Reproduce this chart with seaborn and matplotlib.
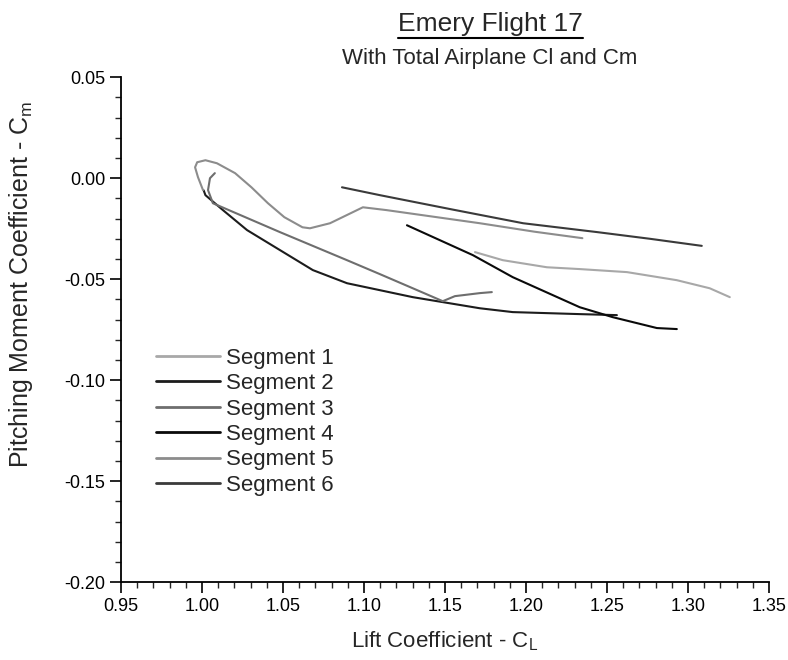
import numpy as np
import pandas as pd
import matplotlib
matplotlib.use("Agg")
import matplotlib.pyplot as plt
import seaborn as sns
from matplotlib.ticker import MultipleLocator, AutoMinorLocator, FormatStrFormatter
from matplotlib.lines import Line2D

# -------------------------------
# Data (CL, Cm per flight segment)
# -------------------------------
seg1_cl = [1.1685, 1.1857, 1.2129, 1.2332, 1.2623, 1.2931, 1.3134, 1.3258]
seg1_cm = [-0.0366, -0.0406, -0.0441, -0.0450, -0.0465, -0.0505, -0.0545, -0.0589]

seg2_cl = [1.0010, 1.0021, 1.0129, 1.0278, 1.0481, 1.0684, 1.0895, 1.1301,
           1.1715, 1.1918, 1.2332, 1.2561]
seg2_cm = [-0.0060, -0.0084, -0.0158, -0.0257, -0.0356, -0.0455, -0.0520, -0.0589,
           -0.0644, -0.0663, -0.0673, -0.0678]

seg3_cl = [1.0079, 1.0049, 1.0037, 1.0067, 1.0481, 1.0895, 1.1098, 1.1301,
           1.1486, 1.1561, 1.1715, 1.1789]
seg3_cm = [0.0025, 0.0000, -0.0059, -0.0124, -0.0267, -0.0406, -0.0475, -0.0545,
           -0.0609, -0.0584, -0.0569, -0.0564]

seg4_cl = [1.1265, 1.1672, 1.1918, 1.2332, 1.2535, 1.2808, 1.2931]
seg4_cm = [-0.0233, -0.0381, -0.0490, -0.0639, -0.0688, -0.0742, -0.0747]

seg5_cl = [1.0006, 0.9975, 0.9957, 0.9970, 1.0021, 1.0092, 1.0204, 1.0305,
           1.0407, 1.0508, 1.0620, 1.0666, 1.0790, 1.0993, 1.1139, 1.1715,
           1.2053, 1.2348]
seg5_cm = [-0.0059, 0.0005, 0.0054, 0.0079, 0.0089, 0.0074, 0.0025, -0.0045,
           -0.0124, -0.0193, -0.0243, -0.0248, -0.0223, -0.0144, -0.0158, -0.0223,
           -0.0265, -0.0297]

seg6_cl = [1.0864, 1.1098, 1.1545, 1.1982, 1.2440, 1.2765, 1.3085]
seg6_cm = [-0.0045, -0.0084, -0.0155, -0.0223, -0.0267, -0.0300, -0.0335]

segments = ["Segment 1", "Segment 2", "Segment 3", "Segment 4", "Segment 5", "Segment 6"]
seg_colors = ["#a8a8a8", "#1c1c1c", "#6e6e6e", "#0a0a0a", "#8c8c8c", "#3a3a3a"]

frames = []
for name, cl, cm in zip(segments,
                        [seg1_cl, seg2_cl, seg3_cl, seg4_cl, seg5_cl, seg6_cl],
                        [seg1_cm, seg2_cm, seg3_cm, seg4_cm, seg5_cm, seg6_cm]):
    frames.append(pd.DataFrame({"CL": cl, "Cm": cm, "segment": name}))
df = pd.concat(frames, ignore_index=True)

# -------------------------------
# Plot
# -------------------------------
sns.set_style("ticks")
plt.rcParams["font.family"] = ["Liberation Sans", "DejaVu Sans"]
plt.rcParams["axes.unicode_minus"] = False

fig = plt.figure(figsize=(7.88, 6.60), dpi=100)
ax = fig.add_axes([0.1536, 0.118, 0.8223, 0.765])

sns.lineplot(data=df, x="CL", y="Cm", hue="segment", hue_order=segments,
             palette=dict(zip(segments, seg_colors)), sort=False, estimator=None,
             linewidth=1.5, ax=ax)

ax.set_xlim(0.95, 1.35)
ax.set_ylim(-0.20, 0.05)
ax.xaxis.set_major_locator(MultipleLocator(0.05))
ax.yaxis.set_major_locator(MultipleLocator(0.05))
ax.xaxis.set_minor_locator(AutoMinorLocator(5))
ax.yaxis.set_minor_locator(AutoMinorLocator(5))
ax.xaxis.set_major_formatter(FormatStrFormatter("%.2f"))
ax.yaxis.set_major_formatter(FormatStrFormatter("%.2f"))
ax.tick_params(axis="both", which="major", direction="out", length=8, width=1.2,
               labelsize=13, colors="black")
ax.tick_params(axis="both", which="minor", direction="out", length=4, width=1.0)
for side in ["left", "bottom"]:
    ax.spines[side].set_linewidth(1.3)
    ax.spines[side].set_color("black")
sns.despine(ax=ax)

ax.set_xlabel("Lift Coefficient - C$_\\mathregular{L}$", fontsize=16, labelpad=10)
ax.set_ylabel("Pitching Moment Coefficient - C$_\\mathregular{m}$", fontsize=18)
ax.yaxis.set_label_coords(-0.133, 0.59)

leg = ax.legend(loc="upper left", bbox_to_anchor=(0.04, 0.482), frameon=False,
                fontsize=16, handlelength=2.9, handletextpad=0.25, labelspacing=0.2,
                borderaxespad=0)
for h in leg.get_lines():
    h.set_linewidth(2.0)

# Titles
title = fig.text(0.622, 0.963, "Emery Flight 17", ha="center", va="center", fontsize=19)
fig.text(0.622, 0.912, "With Total Airplane Cl and Cm", ha="center", va="center", fontsize=16)

# underline the main title
fig.canvas.draw()
bb = title.get_window_extent().transformed(fig.transFigure.inverted())
fig.add_artist(Line2D([bb.x0, bb.x1], [bb.y0 - 0.002, bb.y0 - 0.002],
                      transform=fig.transFigure, color="black", linewidth=1.5))

fig.savefig("out.png", dpi=100)
